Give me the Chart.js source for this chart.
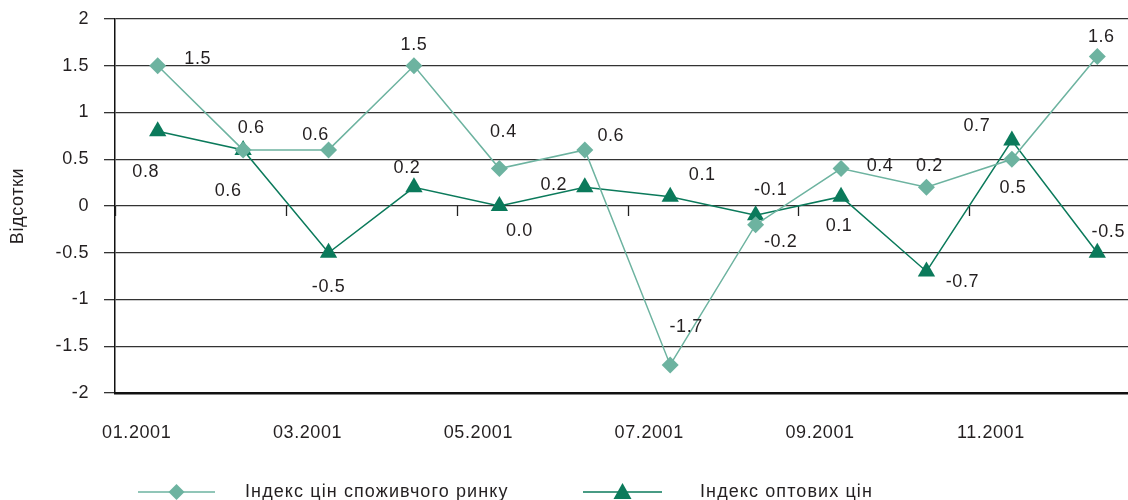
<!DOCTYPE html>
<html lang="uk">
<head>
<meta charset="utf-8">
<title>Індекси цін, 2001</title>
<script src="https://cdn.jsdelivr.net/npm/chart.js@4/dist/chart.umd.min.js"></script>
<style>
  html, body { margin: 0; padding: 0; background: #fff; overflow: hidden; }
  #wrap { width: 1128px; height: 500px; overflow: hidden; }
</style>
</head>
<body>
<div id="wrap"><canvas id="myChart" width="1150" height="500"></canvas></div>
<script>
// --- data ---
const months = ["01.2001", "02.2001", "03.2001", "04.2001", "05.2001", "06.2001",
                "07.2001", "08.2001", "09.2001", "10.2001", "11.2001", "12.2001"];
const consumerIdx = [1.5, 0.6, 0.6, 1.5, 0.4, 0.6, -1.7, -0.2, 0.4, 0.2, 0.5, 1.6];
const wholesaleIdx = [0.8, 0.6, -0.5, 0.2, 0.0, 0.2, 0.1, -0.1, 0.1, -0.7, 0.7, -0.5];
const seriesNames = ["Індекс цін споживчого ринку", "Індекс оптових цін"];
const yTitle = "Відсотки";

// label placement (px from the point), the way the original scattered them
const consumerLabelPos = [[40,-7],[8,-22],[-13,-15],[0,-21],[4,-37],[26,-14],[16,-38],[25,17],[39,-3],[3,-21],[1,29],[4,-19]];
const wholesaleLabelPos = [[-12,41],[-15,41],[0,34],[-7,-19],[20,25],[-31,-2],[32,-22],[15,-25],[-2,29],[36,11],[-35,-15],[11,-21]];

const FONT = "'Liberation Sans', Arial, sans-serif";
const TXT = "#231f20";
const LIGHT = "#6db3a0";
const DARK = "#0b7a5b";

// the original type is a touch wider than Liberation Sans
const spacing = {
    id: "spacing",
    beforeInit(chart) { chart.ctx.letterSpacing = "0.6px"; },
    beforeDraw(chart) { chart.ctx.letterSpacing = "0.6px"; }
};

// value labels next to every point
const valueLabels = {
    id: "valueLabels",
    afterDatasetsDraw(chart) {
        const ctx = chart.ctx;
        const pos = [consumerLabelPos, wholesaleLabelPos];
        ctx.save();
        ctx.font = "18px " + FONT;
        ctx.fillStyle = TXT;
        ctx.textAlign = "center";
        ctx.textBaseline = "middle";
        chart.data.datasets.forEach((ds, di) => {
            chart.getDatasetMeta(di).data.forEach((pt, i) => {
                const [dx, dy] = pos[di][i];
                ctx.fillText(ds.data[i].toFixed(1), pt.x + dx, pt.y + dy);
            });
        });
        ctx.restore();
    }
};

// small tick marks hanging off the zero line + custom legend
const extras = {
    id: "extras",
    beforeDatasetsDraw(chart) {
        const ctx = chart.ctx, x = chart.scales.x, y = chart.scales.y;
        const y0 = y.getPixelForValue(0);
        const step = (x.right - x.left) / months.length;
        ctx.save();
        ctx.strokeStyle = "#222";
        ctx.lineWidth = 1.3;
        for (let k = 0; k <= months.length; k += 2) {
            const px = Math.round(x.left + k * step) + 0.5;
            ctx.beginPath(); ctx.moveTo(px, y0); ctx.lineTo(px, y0 + 10); ctx.stroke();
        }
        ctx.restore();
    },
    afterDraw(chart) {
        const ctx = chart.ctx;
        const items = [
            {x1: 138, x2: 215, text: 245, color: LIGHT, shape: "diamond"},
            {x1: 583, x2: 662, text: 700, color: DARK, shape: "triangle"}
        ];
        const ly = 492;
        ctx.save();
        items.forEach((it, i) => {
            ctx.strokeStyle = it.color;
            ctx.lineWidth = 1.5;
            ctx.beginPath(); ctx.moveTo(it.x1, ly); ctx.lineTo(it.x2, ly); ctx.stroke();
            const cx = (it.x1 + it.x2) / 2;
            ctx.fillStyle = it.color;
            ctx.beginPath();
            if (it.shape === "diamond") {
                ctx.moveTo(cx, ly - 8); ctx.lineTo(cx + 8, ly); ctx.lineTo(cx, ly + 8); ctx.lineTo(cx - 8, ly);
            } else {
                ctx.moveTo(cx, ly - 9); ctx.lineTo(cx + 9, ly + 7); ctx.lineTo(cx - 9, ly + 7);
            }
            ctx.closePath(); ctx.fill();
            ctx.fillStyle = TXT;
            ctx.font = "18px " + FONT;
            ctx.letterSpacing = "1.1px";
            ctx.textAlign = "left";
            ctx.textBaseline = "middle";
            ctx.fillText(seriesNames[i], it.text, ly);
        });
        ctx.restore();
    }
};

const ctx = document.getElementById("myChart").getContext("2d");
const myChart = new Chart(ctx, {
    type: "line",
    data: {
        labels: months,
        datasets: [
            {
                label: seriesNames[0], data: consumerIdx,
                borderColor: LIGHT, backgroundColor: LIGHT, borderWidth: 1.5,
                pointStyle: "rectRot", pointRadius: 8.5, pointBorderWidth: 0,
                pointBackgroundColor: LIGHT, tension: 0
            },
            {
                label: seriesNames[1], data: wholesaleIdx,
                borderColor: DARK, backgroundColor: DARK, borderWidth: 1.5,
                pointStyle: "triangle", pointRadius: 10, pointBorderWidth: 0,
                pointBackgroundColor: DARK, tension: 0
            }
        ]
    },
    options: {
        responsive: false,
        animation: false,
        layout: { padding: { top: 19, right: 0, left: 0, bottom: 0 } },
        plugins: { legend: { display: false }, tooltip: { enabled: false } },
        scales: {
            x: {
                offset: true,
                grid: { display: false, drawTicks: false },
                border: { display: true, color: "#111", width: 2.5 },
                ticks: {
                    autoSkip: false, maxRotation: 0, padding: 29, labelOffset: -21,
                    color: TXT, font: { family: FONT, size: 18 },
                    callback: (v, i) => i % 2 === 0 ? months[i] : ""
                },
                afterFit: s => { s.height = 107; s.paddingLeft = 0; s.paddingRight = 0; }
            },
            y: {
                min: -2, max: 2,
                ticks: {
                    stepSize: 0.5, padding: 15, color: TXT, font: { family: FONT, size: 18 },
                    callback: v => String(v)
                },
                grid: { color: "#333", lineWidth: 1.3, tickLength: 11 },
                border: { color: "#111", width: 1.5 },
                title: { display: true, text: yTitle, color: TXT, font: { family: FONT, size: 18 }, padding: { top: 7, bottom: 0 } },
                afterFit: s => { s.width = 115; s.paddingTop = 0; s.paddingBottom = 0; }
            }
        }
    },
    plugins: [spacing, extras, valueLabels]
});
</script>
</body>
</html>
